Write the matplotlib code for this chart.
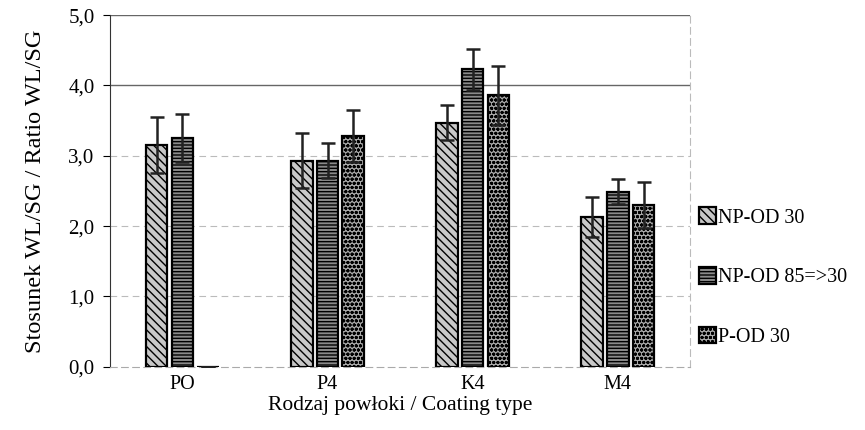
import numpy as np
import matplotlib.pyplot as plt

plt.rcParams['font.family'] = ['Liberation Serif', 'DejaVu Serif']
plt.rcParams['hatch.linewidth'] = 1.0

# data
categories = ["PO", "P4", "K4", "M4"]
series = ["NP-OD 30", "NP-OD 85=>30", "P-OD 30"]
np_od_30 = [3.15, 2.93, 3.47, 2.13]
np_od_85 = [3.25, 2.93, 4.23, 2.49]
p_od_30 = [0.0, 3.28, 3.86, 2.30]
err_np_od_30 = [0.40, 0.39, 0.25, 0.29]
err_np_od_85 = [0.34, 0.25, 0.29, 0.18]
err_p_od_30 = [0.0, 0.37, 0.42, 0.33]
yticks = [0, 1, 2, 3, 4, 5]

values = [np_od_30, np_od_85, p_od_30]
errors = [err_np_od_30, err_np_od_85, err_p_od_30]
faces = ["#c8c8c8", "#8a8a8a", "#a8a8a8"]
hatches = ["\\\\\\\\", "-----", "oooo"]

fig = plt.figure(figsize=(8.65, 4.3), dpi=100)
ax = fig.add_axes([0.127, 0.147, 0.671, 0.818])

x = np.arange(len(categories))
w = 0.15
step = 0.178
for i in range(3):
    pos = x + (i - 1) * step
    ax.bar(pos, values[i], w, color=faces[i], edgecolor="black", linewidth=1.6,
           hatch=hatches[i], label=series[i], zorder=3)
    ax.errorbar(pos, values[i], yerr=errors[i], fmt="none", ecolor="#222222",
                elinewidth=1.8, capsize=5, capthick=1.8, zorder=4)

ax.set_xlim(-0.5, 3.5)
ax.set_ylim(0, 5)
ax.set_yticks(yticks)
ax.set_yticklabels(["%d,0" % v for v in yticks])
ax.set_xticks(x)
ax.set_xticklabels(categories)
ax.tick_params(axis="x", length=0, labelsize=14.5, pad=6)
ax.tick_params(axis="y", direction="out", length=5, labelsize=15, pad=6)

for yv in [4, 5]:
    ax.axhline(yv, color="#666666", lw=1.0, zorder=1)
for yv in [1, 2, 3]:
    ax.axhline(yv, color="#bbbbbb", lw=0.8, ls=(0, (6, 4)), zorder=1)

ax.spines["top"].set_visible(False)
ax.spines["right"].set_color("#bbbbbb")
ax.spines["right"].set_linestyle((0, (6, 4)))
ax.spines["bottom"].set_color("#aaaaaa")
ax.spines["bottom"].set_linestyle((0, (6, 4)))
ax.spines["left"].set_color("#333333")

ax.set_xlabel("Rodzaj powłoki / Coating type", fontsize=15.5, labelpad=1)
ax.set_ylabel("Stosunek WL/SG / Ratio WL/SG", fontsize=17.5, labelpad=16)

leg = ax.legend(loc="center left", bbox_to_anchor=(0.995, 0.255), frameon=False,
                fontsize=14.5, handlelength=0.8, handleheight=0.9,
                handletextpad=0.1, labelspacing=1.95, borderaxespad=0.2)

fig.savefig("out.png", dpi=100)
